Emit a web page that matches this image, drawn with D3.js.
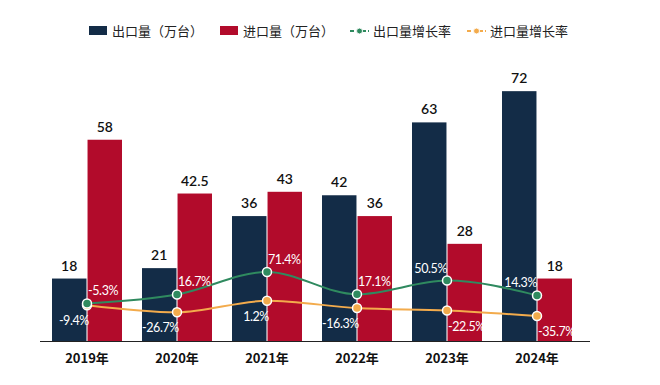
<!DOCTYPE html>
<html><head><meta charset="utf-8">
<script src="https://cdn.jsdelivr.net/npm/d3@7/dist/d3.min.js"></script>
<style>
html,body{margin:0;padding:0;background:#fff;}
svg{display:block;font-family:Lato,"Noto Sans CJK SC",sans-serif;}
</style></head>
<body><svg id="c" width="660" height="385"></svg>
<script>
const years = ["2019年","2020年","2021年","2022年","2023年","2024年"];
const exportVol = [18, 21, 36, 42, 63, 72];
const importVol = [58, 42.5, 43, 36, 28, 18];
const exportRate = [-5.3, 16.7, 71.4, 17.1, 50.5, 14.3];
const importRate = [-9.4, -26.7, 1.2, -16.3, -22.5, -35.7];
const seriesNames = ["出口量（万台）","进口量（万台）","出口量增长率","进口量增长率"];

const C = {navy:"#132c47", red:"#b20b2b", green:"#2f8a5f", orange:"#f3ab4c"};
const svg = d3.select("#c");
const base = 341;

const x = d3.scaleBand().domain(years).range([42, 582]).padding(0);
const xs = d3.scaleBand().domain(["e","i"]).range([-35, 35]).paddingInner(0.03);
const y = d3.scaleLinear().domain([0, 80]).range([base, 63.4]);
const yr = d3.scaleLinear().domain([-100, 100]).range([342.4, 260.2]);
const cx = d => x(d) + x.bandwidth()/2;

// bars
const g = svg.append("g");
years.forEach((yr_, i) => {
  const c = cx(yr_);
  g.append("rect").attr("x", c + xs("e")).attr("width", xs.bandwidth())
    .attr("y", y(exportVol[i])).attr("height", base - y(exportVol[i])).attr("fill", C.navy);
  g.append("rect").attr("x", c + xs("i")).attr("width", xs.bandwidth())
    .attr("y", y(importVol[i])).attr("height", base - y(importVol[i])).attr("fill", C.red);
  g.append("text").attr("x", c + xs("e") + xs.bandwidth()/2).attr("y", y(exportVol[i]) - 8)
    .attr("text-anchor","middle").attr("font-size",14).attr("font-weight",600).attr("fill","#111").text(exportVol[i]);
  g.append("text").attr("x", c + xs("i") + xs.bandwidth()/2).attr("y", y(importVol[i]) - 8)
    .attr("text-anchor","middle").attr("font-size",14).attr("font-weight",600).attr("fill","#111").text(importVol[i]);
});

// axis
const ax = svg.append("g").attr("transform", `translate(0,${base})`)
  .call(d3.axisBottom(x).tickSize(0).tickPadding(10));
ax.select(".domain").attr("d", "M40,0.5H590").attr("stroke","#222").attr("stroke-width",1.2);
ax.selectAll("text").attr("font-size",13).attr("font-weight",700).attr("fill","#111")
  .attr("font-family",'"Noto Sans CJK SC",sans-serif').attr("dy","0.9em");

// lines
const line = d3.line().x((d,i) => cx(years[i])).y(d => yr(d)).curve(d3.curveMonotoneX);
svg.append("path").attr("d", line(importRate)).attr("fill","none").attr("stroke",C.orange).attr("stroke-width",2);
svg.append("path").attr("d", line(exportRate)).attr("fill","none").attr("stroke",C.green).attr("stroke-width",2);
[[importRate, C.orange],[exportRate, C.green]].forEach(([arr,col]) => {
  svg.append("g").selectAll("circle").data(arr).join("circle")
    .attr("cx",(d,i)=>cx(years[i])).attr("cy",d=>yr(d)).attr("r",4.5)
    .attr("fill",col).attr("stroke","#fff").attr("stroke-width",1.5);
});
// rate labels
const fmt = v => v.toFixed(1) + "%";
const rl = svg.append("g").attr("font-size",12.5).attr("letter-spacing",-0.4).attr("fill","#fff");
exportRate.forEach((v,i) => {
  const right = i < 4;
  rl.append("text").attr("x", cx(years[i]) + (right ? 1 : 0)).attr("y", yr(v) - 8)
    .attr("text-anchor", right ? "start" : "end").text(fmt(v));
});
importRate.forEach((v,i) => {
  const left = i < 4;
  rl.append("text").attr("x", cx(years[i]) + (left ? 2 : 1)).attr("y", yr(v) + 20)
    .attr("text-anchor", left ? "end" : "start").text(fmt(v));
});

// legend
const lg = svg.append("g").attr("font-family",'"Noto Sans CJK SC",sans-serif').attr("font-size",13).attr("fill","#222");
const lx = [89, 220, 350, 467];
seriesNames.forEach((n,i) => {
  const gx = lx[i];
  if (i < 2) {
    lg.append("rect").attr("x",gx).attr("y",26).attr("width",18).attr("height",9).attr("fill", i===0?C.navy:C.red);
  } else {
    const col = i===2?C.green:C.orange;
    lg.append("line").attr("x1",gx).attr("x2",gx+19).attr("y1",31).attr("y2",31)
      .attr("stroke",col).attr("stroke-width",2).attr("stroke-dasharray","4,2");
    lg.append("circle").attr("cx",gx+9.5).attr("cy",31).attr("r",3).attr("fill",col).attr("stroke","#fff").attr("stroke-width",1);
  }
  lg.append("text").attr("x", gx + 23).attr("y", 31).attr("dy","0.35em").text(n);
});
</script></body></html>
